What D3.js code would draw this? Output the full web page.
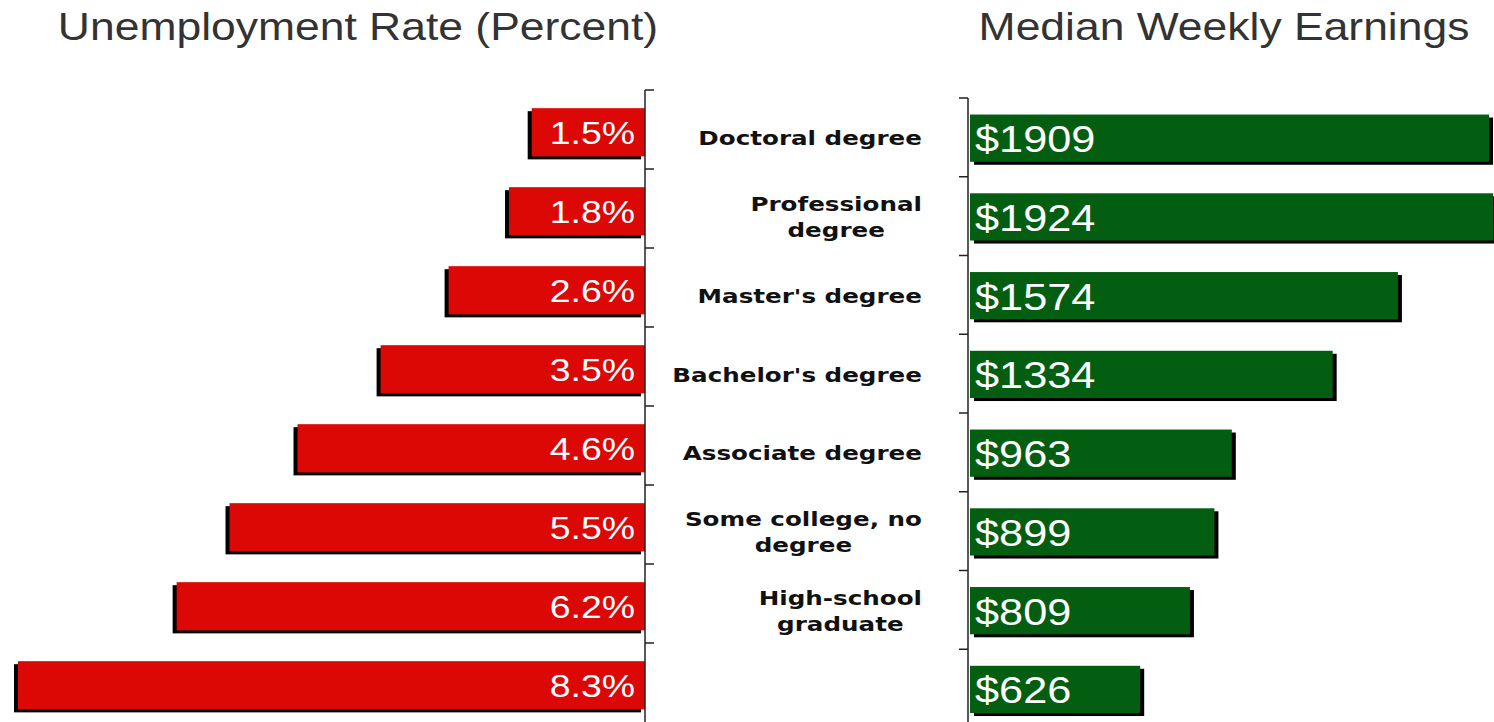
<!doctype html>
<meta charset="utf-8">
<style>
body {
    margin: 0;
    background: #fff;
}
.title {
    font-family: "Liberation Sans", Arial, sans-serif;
    font-size: 38px;
    fill: #333;
}
.cat {
    font-family: "DejaVu Sans", Verdana, sans-serif;
    font-weight: bold;
    font-size: 20px;
    fill: #111;
}
.val {
    font-family: "Liberation Sans", Arial, sans-serif;
    fill: #fff;
}
.axis line {
    stroke: #222;
    stroke-width: 1.5;
}
</style>
<div id="viz"></div>
<script src="https://cdn.jsdelivr.net/npm/d3@7"></script>
<script>
// education level -> unemployment rate (%) and median weekly earnings ($)
var eduData = [
    {key: 'doctoral',     lines: ['Doctoral degree'],          rate: 1.5, earn: 1909},
    {key: 'professional', lines: ['Professional', 'degree'],   rate: 1.8, earn: 1924},
    {key: 'masters',      lines: ["Master's degree"],          rate: 2.6, earn: 1574},
    {key: 'bachelors',    lines: ["Bachelor's degree"],        rate: 3.5, earn: 1334},
    {key: 'associate',    lines: ['Associate degree'],         rate: 4.6, earn: 963},
    {key: 'somecollege',  lines: ['Some college, no', 'degree'], rate: 5.5, earn: 899},
    {key: 'highschool',   lines: ['High-school', 'graduate'],  rate: 6.2, earn: 809},
    {key: 'lesshs',       lines: [],                           rate: 8.3, earn: 626}
];
</script>
<script>
var width = 1494;
var height = 722;
// the source picture is stretched sideways, so text is too
var SX = 1.17;
var SX_CAT = 1.23;

var svg = d3.select('#viz').append('svg')
    .style('display', 'block')
    .attr('width', width)
    .attr('height', height);

var keys = eduData.map(function (d) { return d.key; });

// left panel: bars grow leftwards from the axis
var xL = d3.scaleLinear().domain([0, 8.3]).range([645, 18]);
var yL = d3.scaleBand().domain(keys).range([90, 722]);

// right panel
var xR = d3.scaleLinear().domain([0, 1909]).range([970, 1489]);
var yR = d3.scaleBand().domain(keys).range([98, 728]);

function stretched(sel, x, y, sx) {
    return sel.attr('transform', 'translate(' + x + ',' + y + ') scale(' + (sx || SX) + ',1)');
}

// titles
stretched(svg.append('text').attr('class', 'title').attr('text-anchor', 'middle'), 358, 40)
    .text('Unemployment Rate (Percent)');
stretched(svg.append('text').attr('class', 'title').attr('text-anchor', 'middle'), 1224, 40)
    .text('Median Weekly Earnings');

/** LEFT BARS **/
var left = svg.append('g');
var lRows = left.selectAll('g.row').data(eduData).enter().append('g').attr('class', 'row');

lRows.append('rect') // shadow
    .attr('x', function (d) { return xL(d.rate) - 4; })
    .attr('y', function (d) { return yL(d.key) + yL.bandwidth() * 0.23 + 3; })
    .attr('width', function (d) { return xL(0) - xL(d.rate); })
    .attr('height', yL.bandwidth() * 0.61)
    .attr('fill', '#000');
lRows.append('rect')
    .attr('x', function (d) { return xL(d.rate); })
    .attr('y', function (d) { return yL(d.key) + yL.bandwidth() * 0.23; })
    .attr('width', function (d) { return xL(0) - xL(d.rate); })
    .attr('height', yL.bandwidth() * 0.61)
    .attr('fill', '#dc0805');
lRows.each(function (d) {
    stretched(d3.select(this).append('text')
        .attr('class', 'val')
        .attr('text-anchor', 'end')
        .style('font-size', '32px'),
        xL(0) - 10, yL(d.key) + yL.bandwidth() * 0.535 + 12)
        .text(d.rate.toFixed(1) + '%');
});

// left axis, ticks between categories pointing right
var axL = svg.append('g').attr('class', 'axis');
axL.append('line')
    .attr('x1', xL(0)).attr('x2', xL(0))
    .attr('y1', yL.range()[0]).attr('y2', yL.range()[1]);
axL.selectAll('line.tick').data(keys).enter().append('line')
    .attr('class', 'tick')
    .attr('x1', xL(0)).attr('x2', xL(0) + 9)
    .attr('y1', function (d) { return yL(d); })
    .attr('y2', function (d) { return yL(d); });

/** RIGHT BARS **/
var right = svg.append('g');
var rRows = right.selectAll('g.row').data(eduData).enter().append('g').attr('class', 'row');

rRows.append('rect') // shadow
    .attr('x', xR(0) + 4)
    .attr('y', function (d) { return yR(d.key) + yR.bandwidth() * 0.21 + 3; })
    .attr('width', function (d) { return xR(d.earn) - xR(0); })
    .attr('height', yR.bandwidth() * 0.6)
    .attr('fill', '#000');
rRows.append('rect')
    .attr('x', xR(0))
    .attr('y', function (d) { return yR(d.key) + yR.bandwidth() * 0.21; })
    .attr('width', function (d) { return xR(d.earn) - xR(0); })
    .attr('height', yR.bandwidth() * 0.6)
    .attr('fill', '#045e12');
rRows.each(function (d) {
    stretched(d3.select(this).append('text')
        .attr('class', 'val')
        .attr('text-anchor', 'start')
        .style('font-size', '37px'),
        xR(0) + 5, yR(d.key) + yR.bandwidth() * 0.51 + 14)
        .text('$' + d.earn);
});

// right axis, ticks pointing left
var axR = svg.append('g').attr('class', 'axis');
axR.append('line')
    .attr('x1', xR(0) - 2).attr('x2', xR(0) - 2)
    .attr('y1', yR.range()[0]).attr('y2', yR.range()[1]);
axR.selectAll('line.tick').data(keys).enter().append('line')
    .attr('class', 'tick')
    .attr('x1', xR(0) - 2).attr('x2', xR(0) - 11)
    .attr('y1', function (d) { return yR(d); })
    .attr('y2', function (d) { return yR(d); });

/** CATEGORY LABELS **/
// each block is right aligned at 922, lines centred inside the block
var labels = svg.append('g');
eduData.forEach(function (d) {
    if (!d.lines.length) return;
    var g = labels.append('g');
    var texts = d.lines.map(function (line, i) {
        return g.append('text')
            .attr('class', 'cat')
            .attr('text-anchor', 'middle')
            .text(line);
    });
    var maxW = d3.max(texts, function (t) { return t.node().getComputedTextLength(); }) * SX_CAT;
    var cy = yR(d.key) + yR.bandwidth() / 2;
    var lineH = 26;
    var top = cy - (d.lines.length - 1) * lineH / 2 + 8;
    texts.forEach(function (t, i) {
        stretched(t, 922 - maxW / 2, top + i * lineH, SX_CAT);
    });
});
</script>
